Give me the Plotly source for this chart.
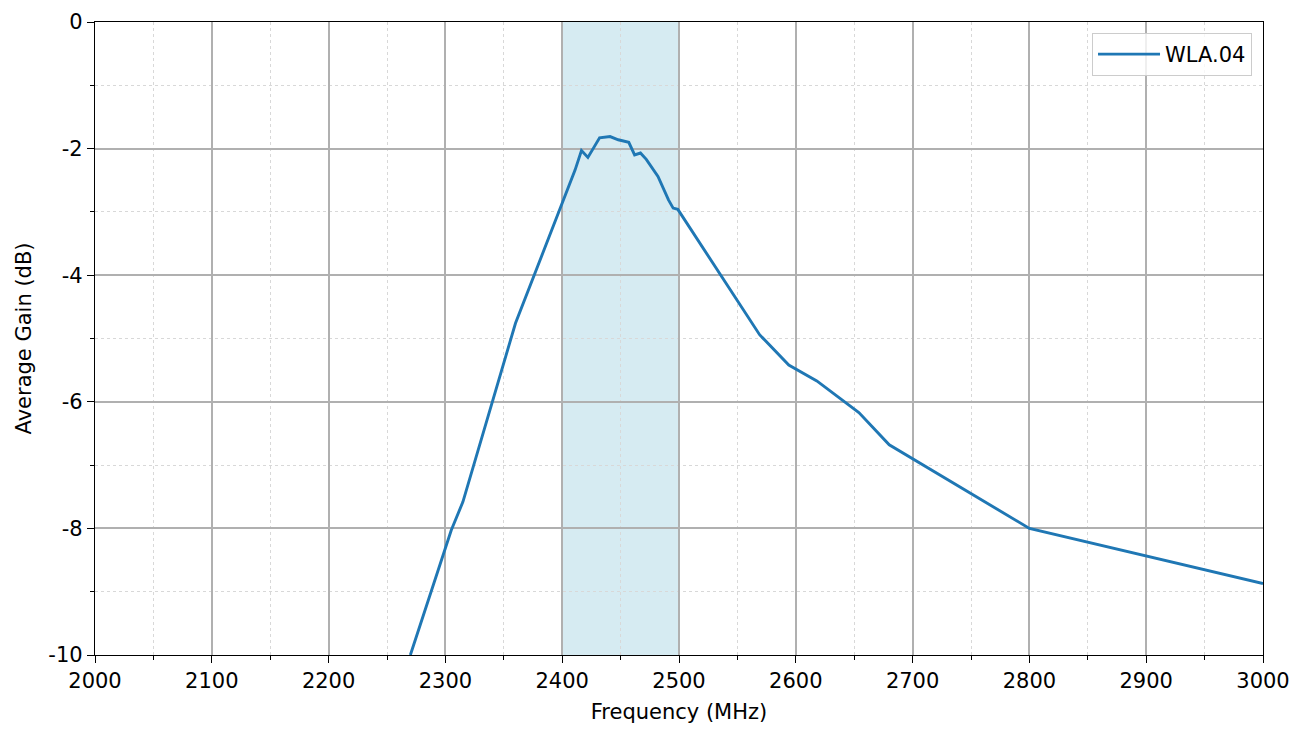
import plotly.graph_objects as go

freq = [2270, 2305, 2315, 2360, 2411, 2416.5, 2422, 2432, 2441, 2448, 2457, 2462,
        2467, 2472, 2482, 2491, 2495, 2499, 2569, 2594, 2618, 2654, 2680, 2800, 3000]
gain = [-10, -8.03, -7.58, -4.76, -2.34, -2.03, -2.14, -1.83, -1.81, -1.86, -1.90, -2.10,
        -2.07, -2.17, -2.44, -2.81, -2.94, -2.96, -4.94, -5.42, -5.67, -6.17, -6.68, -8.0, -8.87]
band = [2400, 2500]
xticks = [2000, 2100, 2200, 2300, 2400, 2500, 2600, 2700, 2800, 2900, 3000]
yticks = [0, -2, -4, -6, -8, -10]

FONT = "DejaVu Sans"
FS = 21

fig = go.Figure()
fig.add_trace(go.Scatter(x=freq, y=gain, mode="lines", name="WLA.04",
                         line=dict(color="#1f77b4", width=2.9)))
fig.add_vrect(x0=band[0], x1=band[1], fillcolor="rgba(173,216,230,0.5)",
              line_width=0, layer="below")

axis_common = dict(
    showline=True, linecolor="black", linewidth=1.3, mirror=True,
    ticks="outside", ticklen=7, tickwidth=1.3, tickcolor="black",
    showgrid=True, gridcolor="#b0b0b0", gridwidth=1.6, zeroline=False,
    tickfont=dict(family=FONT, size=FS, color="black"),
    automargin=False,
)

fig.update_xaxes(
    range=[2000, 3000], tickvals=xticks, ticktext=[str(v) for v in xticks],
    title=dict(text="Frequency (MHz)", font=dict(family=FONT, size=FS, color="black"), standoff=11),
    minor=dict(dtick=50, showgrid=True, gridcolor="#d8d8d8", griddash="dot", gridwidth=1,
               ticks="outside", ticklen=4, tickcolor="black"),
    **axis_common,
)
fig.update_yaxes(
    range=[-10, 0], tickvals=yticks, ticktext=[str(v) for v in yticks],
    title=dict(text="Average Gain (dB)", font=dict(family=FONT, size=FS, color="black"), standoff=10),
    minor=dict(dtick=1, showgrid=True, gridcolor="#d8d8d8", griddash="dot", gridwidth=1,
               ticks="outside", ticklen=4, tickcolor="black"),
    **axis_common,
)

fig.update_layout(
    width=1303, height=730,
    margin=dict(l=87, r=48, t=14, b=83),
    plot_bgcolor="white", paper_bgcolor="white",
    font=dict(family=FONT, size=FS, color="black"),
    showlegend=True,
    legend=dict(x=0.9906, y=0.9826, xanchor="right", yanchor="top",
                itemwidth=62,
                bgcolor="rgba(255,255,255,0.8)", bordercolor="#cccccc", borderwidth=1,
                font=dict(family=FONT, size=FS, color="black")),
)

fig.write_html("out.html")
